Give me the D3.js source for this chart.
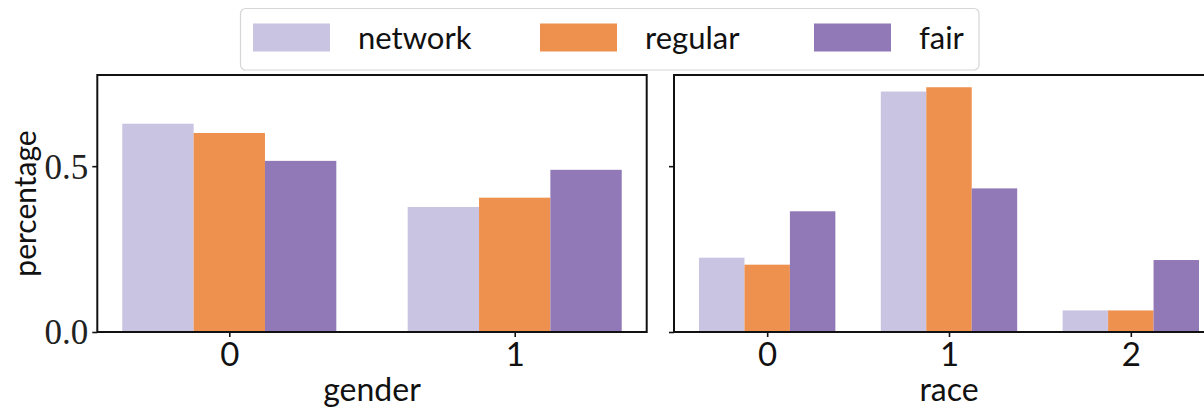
<!DOCTYPE html>
<html>
<head>
<meta charset="utf-8">
<script src="https://cdn.jsdelivr.net/npm/d3@7"></script>
<style>
  html, body { margin: 0; padding: 0; background: #fff; }
  svg { display: block; }
</style>
</head>
<body>
<svg id="chart" width="1204" height="407"></svg>
<script>
// ---- data ----
const seriesNames = ["network", "regular", "fair"];
const genderCategories = ["0", "1"];
const raceCategories = ["0", "1", "2"];
const genderNetwork = [0.628, 0.377];
const genderRegular = [0.600, 0.405];
const genderFair = [0.516, 0.489];
const raceNetwork = [0.224, 0.725, 0.065];
const raceRegular = [0.203, 0.738, 0.065];
const raceFair = [0.364, 0.433, 0.217];
const yTickValues = [0.0, 0.5];
const yTickLabels = ["0.0", "0.5"];
const panelTitles = ["gender", "race"];
const yLabel = "percentage";

// ---- styles ----
const colors = ["#c8c4e1", "#ee914f", "#9178b6"];
const sansFont = "Lato, 'Open Sans', sans-serif";
const serifFont = "'Liberation Serif', 'DejaVu Serif', serif";

const svg = d3.select("#chart");
const plotTop = 75, plotBottom = 332;
const barW = 0.25;
const yMax = d3.max([...genderNetwork, ...genderRegular, ...genderFair,
                     ...raceNetwork, ...raceRegular, ...raceFair]) * 1.05;
const y = d3.scaleLinear().domain([0, yMax]).range([plotBottom, plotTop]);

const panels = [
  { cats: genderCategories, values: [genderNetwork, genderRegular, genderFair],
    left: 97.3, right: 646.7, label: panelTitles[0], showY: true },
  { cats: raceCategories, values: [raceNetwork, raceRegular, raceFair],
    left: 674, right: 1224, label: panelTitles[1], showY: false }
];

panels.forEach(p => {
  const n = p.cats.length;
  const lo = -1.5 * barW, hi = (n - 1) + 1.5 * barW;
  const m = (hi - lo) * 0.05;
  const x = d3.scaleLinear().domain([lo - m, hi + m]).range([p.left, p.right]);
  const g = svg.append("g");

  // bars
  p.values.forEach((vals, si) => {
    g.selectAll(null).data(vals).enter().append("rect")
      .attr("x", (d, i) => x(i + (si - 1) * barW - barW / 2))
      .attr("width", (d, i) => x(i + (si - 1) * barW + barW / 2) - x(i + (si - 1) * barW - barW / 2))
      .attr("y", d => y(d))
      .attr("height", d => plotBottom - y(d))
      .attr("fill", colors[si]);
  });

  // x axis
  const xAxis = d3.axisBottom(x).tickValues(d3.range(n))
    .tickFormat(i => p.cats[i]).tickSize(5).tickPadding(5);
  const gx = g.append("g").attr("transform", `translate(0,${plotBottom})`).call(xAxis);
  gx.select(".domain").remove();
  gx.selectAll(".tick line").attr("stroke", "#111").attr("stroke-width", 1.6);
  gx.selectAll(".tick text").attr("font-family", sansFont).attr("font-size", 33)
    .attr("fill", "#111").attr("dy", "0.72em");

  // y axis
  const yAxis = d3.axisLeft(y).tickValues(yTickValues)
    .tickFormat((d, i) => p.showY ? yTickLabels[i] : "").tickSize(5).tickPadding(4);
  const gy = g.append("g").attr("transform", `translate(${p.left},0)`).call(yAxis);
  gy.select(".domain").remove();
  gy.selectAll(".tick line").attr("stroke", "#111").attr("stroke-width", 1.6);
  gy.selectAll(".tick text").attr("font-family", serifFont).attr("font-size", 35)
    .attr("fill", "#222").attr("dy", "0.34em");

  // frame
  g.append("rect").attr("x", p.left).attr("y", plotTop)
    .attr("width", p.right - p.left).attr("height", plotBottom - plotTop)
    .attr("fill", "none").attr("stroke", "#111").attr("stroke-width", 2);

  // x label
  g.append("text").attr("x", (p.left + p.right) / 2).attr("y", 401)
    .attr("text-anchor", "middle").attr("font-family", sansFont).attr("font-size", 32)
    .attr("fill", "#111").text(p.label);
});

// y label
svg.append("text")
  .attr("transform", `translate(36,${(plotTop + plotBottom) / 2}) rotate(-90)`)
  .attr("text-anchor", "middle").attr("font-family", sansFont).attr("font-size", 30)
  .attr("fill", "#111").text(yLabel);

// legend
const lg = svg.append("g");
lg.append("rect").attr("x", 240.5).attr("y", 8.5).attr("width", 738.5).attr("height", 61.5)
  .attr("rx", 5).attr("fill", "#fff").attr("fill-opacity", 0.85)
  .attr("stroke", "#d6d6d6").attr("stroke-width", 1.2);
const legendX = [253, 540, 814];
seriesNames.forEach((name, i) => {
  lg.append("rect").attr("x", legendX[i]).attr("y", 23.5).attr("width", 77).attr("height", 28)
    .attr("fill", colors[i]);
  lg.append("text").attr("x", legendX[i] + 105).attr("y", 49)
    .attr("font-family", sansFont).attr("font-size", 31).attr("fill", "#111").text(name);
});
</script>
</body>
</html>
